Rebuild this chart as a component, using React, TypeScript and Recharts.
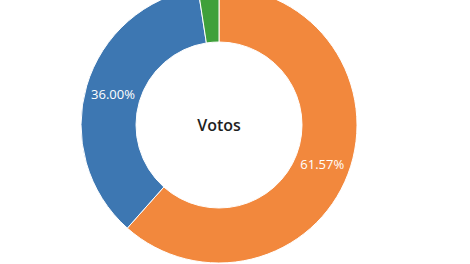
import { PieChart, Pie, Cell, Label } from "recharts";

const categories = ["Opción A", "Opción B", "Otros"];
const votes = [61.57, 36.0, 2.43];
const COLORS = ["#F2883D", "#3D77B2", "#3FA03A"];
const centerTitle = "Votos";

const CX = 219;
const CY = 125;

const data = categories.map((name, i) => ({ name, value: votes[i] }));

const RADIAN = Math.PI / 180;

const renderLabel = (props: any) => {
  const { cx, cy, midAngle, innerRadius, outerRadius, value } = props;
  if (value < 5) return null;
  const r = (innerRadius + outerRadius) / 2;
  const x = cx + r * Math.cos(-midAngle * RADIAN);
  const y = cy + r * Math.sin(-midAngle * RADIAN);
  return (
    <text
      x={x}
      y={y}
      fill="#ffffff"
      textAnchor="middle"
      dominantBaseline="central"
      fontSize={13}
      fontFamily="'Open Sans', sans-serif"
    >
      {value.toFixed(2)}%
    </text>
  );
};

const renderCenter = () => (
  <text
    x={CX}
    y={CY}
    fill="#1f1f1f"
    textAnchor="middle"
    dominantBaseline="central"
    fontSize={16}
    fontWeight={600}
    fontFamily="'Open Sans', sans-serif"
  >
    {centerTitle}
  </text>
);

export default function App() {
  return (
    <div style={{ position: "absolute", left: 0, top: 0, background: "#fff" }}>
      <PieChart width={470} height={264} margin={{ top: 0, right: 0, bottom: 0, left: 0 }}>
        <Pie
          data={data}
          dataKey="value"
          cx={CX}
          cy={CY}
          innerRadius={83}
          outerRadius={138}
          startAngle={90}
          endAngle={-270}
          stroke="#ffffff"
          strokeWidth={1}
          labelLine={false}
          label={renderLabel}
          isAnimationActive={false}
        >
          {data.map((_entry, index) => (
            <Cell key={`cell-${index}`} fill={COLORS[index]} />
          ))}
          <Label position="center" content={renderCenter} />
        </Pie>
      </PieChart>
    </div>
  );
}
